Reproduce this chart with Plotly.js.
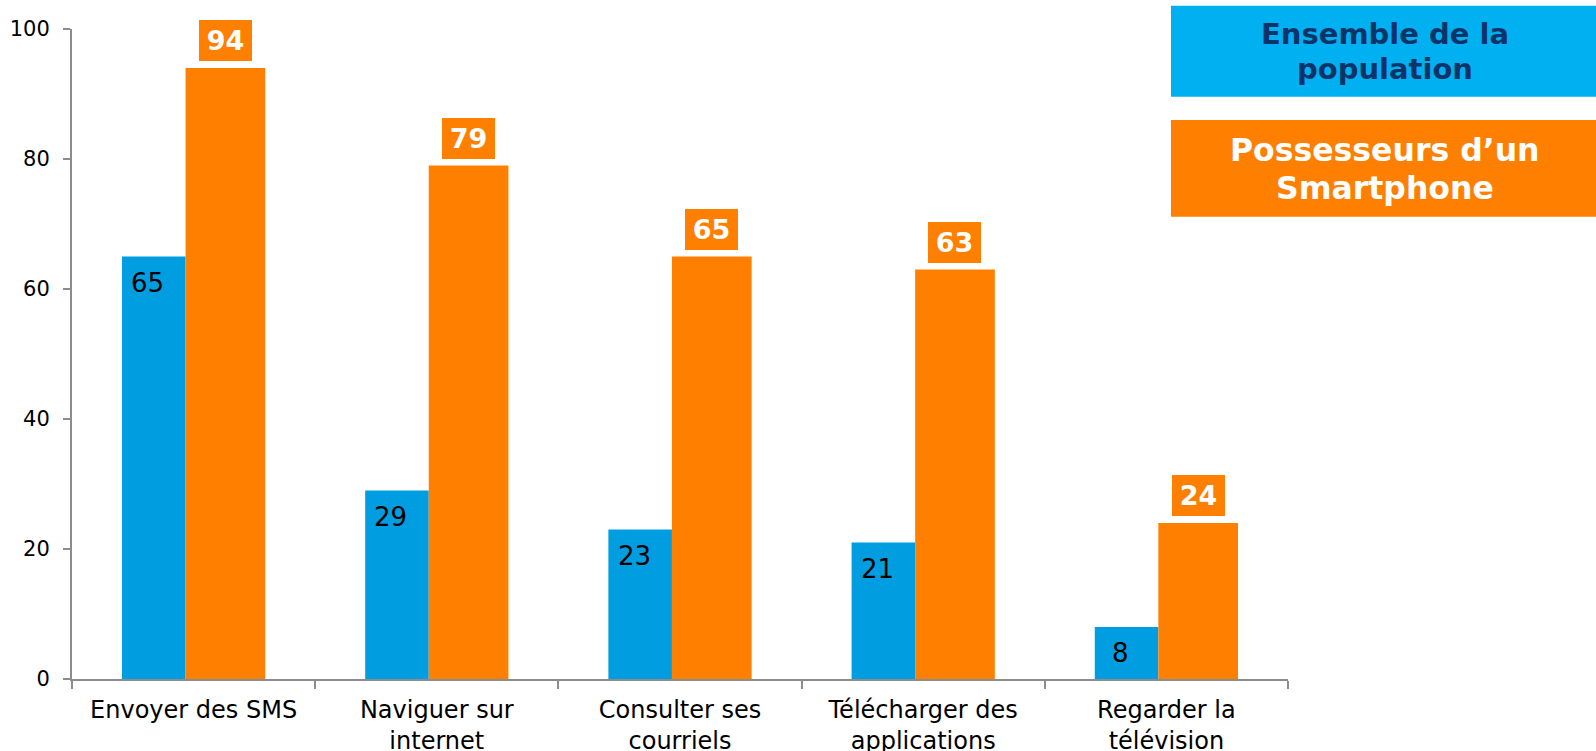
<!DOCTYPE html>
<html>
<head>
<meta charset="utf-8">
<script src="https://cdn.plot.ly/plotly-3.0.1.min.js"></script>
<style>
  html, body { margin: 0; padding: 0; background: #ffffff; }
  #chart { width: 1596px; height: 751px; }
</style>
</head>
<body>
<div id="chart"></div>
<script>
// ---- Data ----
const categories = [
  "Envoyer des SMS",
  "Naviguer sur<br>internet",
  "Consulter ses<br>courriels",
  "Télécharger des<br>applications",
  "Regarder la<br>télévision"
];
const ensembleValues = [65, 29, 23, 21, 8];
const smartphoneValues = [94, 79, 65, 63, 24];
const legendEnsemble = ["Ensemble de la", "population"];
const legendSmartphone = ["Possesseurs d\u2019un", "Smartphone"];
const yTicks = [0, 20, 40, 60, 80, 100];

// ---- Style ----
const FONT = "DejaVu Sans, Verdana, sans-serif";
const BLUE_BAR = "#009EE0";
const ORANGE = "#FF8000";
const LEGEND_BLUE = "#00B0F0";
const NAVY = "#0D3468";
const AXIS_GREY = "#8C8C8C";

const blueWidth = 0.2614, blueOffset = -0.2945;
const orangeWidth = 0.3276, orangeOffset = -0.0331;

const traces = [
  {
    type: "bar", x: categories, y: ensembleValues, name: "Ensemble de la population",
    width: categories.map(() => blueWidth), offset: categories.map(() => blueOffset),
    marker: { color: BLUE_BAR, line: { width: 0 } }, hoverinfo: "x+y"
  },
  {
    type: "bar", x: categories, y: smartphoneValues, name: "Possesseurs d'un Smartphone",
    width: categories.map(() => orangeWidth), offset: categories.map(() => orangeOffset),
    marker: { color: ORANGE, line: { width: 0 } }, hoverinfo: "x+y"
  }
];

const annotations = [];
// orange value boxes above bars
smartphoneValues.forEach((v, i) => {
  annotations.push({
    xref: "x", yref: "y", x: i + orangeOffset + orangeWidth / 2, y: v,
    yanchor: "bottom", yshift: 7, showarrow: false,
    text: "<b>" + v + "</b>",
    font: { family: FONT, size: 27, color: "#ffffff" },
    bgcolor: ORANGE, width: 53, height: 41, borderpad: 0, borderwidth: 0
  });
});
// blue value labels inside bars
ensembleValues.forEach((v, i) => {
  annotations.push({
    xref: "x", yref: "y", x: i + blueOffset + blueWidth / 2, y: v,
    yanchor: "middle", yshift: -26, xshift: -6, showarrow: false,
    text: String(v),
    font: { family: FONT, size: 26, color: "#000000" }
  });
});

// legend boxes (paper coordinates; plot area spans x 72..1288, y 29..679 px)
const pxX = px => (px - 72) / (1288 - 72);
const pxY = py => (679 - py) / (679 - 29);
const shapes = [
  { type: "rect", xref: "paper", yref: "paper", x0: pxX(1171), x1: pxX(1600), y0: pxY(96.7), y1: pxY(5.7),
    fillcolor: LEGEND_BLUE, line: { width: 0 }, layer: "above" },
  { type: "rect", xref: "paper", yref: "paper", x0: pxX(1171), x1: pxX(1600), y0: pxY(216.7), y1: pxY(120),
    fillcolor: ORANGE, line: { width: 0 }, layer: "above" }
];
const legendCenterX = pxX(1385);
const blueLineY = [34, 69];
const orangeLineY = [150, 188];
legendEnsemble.forEach((t, k) => {
  annotations.push({
    xref: "paper", yref: "paper", x: legendCenterX, y: pxY(blueLineY[k]),
    xanchor: "center", yanchor: "middle", showarrow: false,
    text: "<b>" + t + "</b>", font: { family: FONT, size: 29, color: NAVY }
  });
});
legendSmartphone.forEach((t, k) => {
  annotations.push({
    xref: "paper", yref: "paper", x: legendCenterX, y: pxY(orangeLineY[k]),
    xanchor: "center", yanchor: "middle", showarrow: false,
    text: "<b>" + t + "</b>", font: { family: FONT, size: 31.5, color: "#ffffff" }
  });
});

const layout = {
  width: 1596, height: 751,
  margin: { l: 72, r: 308, t: 29, b: 72, pad: 0 },
  paper_bgcolor: "#ffffff", plot_bgcolor: "#ffffff",
  showlegend: false,
  barmode: "overlay",
  font: { family: FONT, color: "#000000" },
  xaxis: {
    type: "category", tickson: "boundaries", ticks: "outside", ticklen: 8,
    tickcolor: AXIS_GREY, tickwidth: 2, showline: true, linecolor: AXIS_GREY, linewidth: 2,
    showgrid: false, zeroline: false, tickfont: { family: FONT, size: 24, color: "#000000" },
    ticklabelstandoff: 8, range: [-0.5, 4.5]
  },
  yaxis: {
    range: [0, 100], tickvals: yTicks, ticktext: yTicks.map(String), ticks: "outside", ticklen: 7,
    tickcolor: AXIS_GREY, tickwidth: 2, showline: true, linecolor: AXIS_GREY, linewidth: 2,
    showgrid: false, zeroline: false, tickfont: { family: FONT, size: 21, color: "#000000" },
    ticklabelstandoff: 9
  },
  shapes: shapes,
  annotations: annotations
};

Plotly.newPlot("chart", traces, layout, { displayModeBar: false, staticPlot: true });
</script>
</body>
</html>
